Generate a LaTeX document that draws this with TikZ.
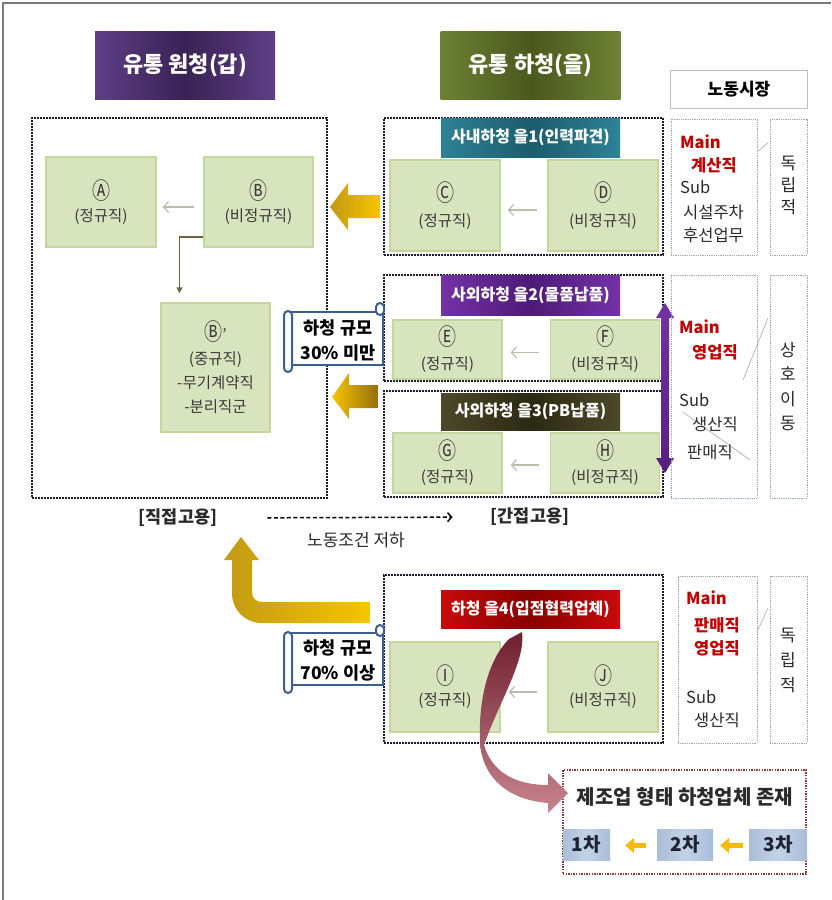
\documentclass[tikz,border=0pt]{standalone}
\usepackage{fontspec}
\usepackage{graphicx}
\setmainfont{Noto Sans CJK KR}
\usetikzlibrary{arrows.meta,calc}
\newcommand\fsz[2]{\fontsize{#1}{#2}\selectfont}
\newcommand\cl[1]{\scalebox{1}[1.3]{\fsz{18}{18}#1}}
\definecolor{framegray}{HTML}{7A7A7A}
\definecolor{gfill}{HTML}{D7E4BD}
\definecolor{gborder}{HTML}{C4D69E}
\definecolor{gtext}{HTML}{3A3A3A}
\definecolor{dotc}{HTML}{1C1C2C}
\definecolor{lgray}{HTML}{9AA3B2}
\definecolor{arrgray}{HTML}{BDBDAE}
\definecolor{olivec}{HTML}{6B6342}
\definecolor{pur1}{HTML}{5E3F86}
\definecolor{pur2}{HTML}{392254}
\definecolor{olv1}{HTML}{6E8134}
\definecolor{olv2}{HTML}{4A581D}
\definecolor{teal1}{HTML}{2E8296}
\definecolor{teal2}{HTML}{1D5C6C}
\definecolor{vio1}{HTML}{7432A6}
\definecolor{vio2}{HTML}{4E1A78}
\definecolor{brn1}{HTML}{4C4829}
\definecolor{brn2}{HTML}{2C2913}
\definecolor{red1}{HTML}{C80A0A}
\definecolor{red2}{HTML}{880000}
\definecolor{mainred}{HTML}{C00000}
\definecolor{scrollblue}{HTML}{3B5F8F}
\definecolor{golddark}{HTML}{C29A14}
\definecolor{goldbright}{HTML}{F6C400}
\definecolor{goldbrown}{HTML}{94700E}
\definecolor{redarrdark}{HTML}{6F1F2F}
\definecolor{redarrlight}{HTML}{C7858F}
\definecolor{tierblue}{HTML}{A9BDD8}
\definecolor{tierblue2}{HTML}{C3D2E6}
\definecolor{tiertext}{HTML}{1E2436}
\definecolor{bbred}{HTML}{8B3A3A}
\definecolor{dtext}{HTML}{2A2A2A}
\begin{document}
\begin{tikzpicture}[x=1pt,y=-1pt,
  gbox/.style={draw=gborder, fill=gfill, line width=1.5, minimum width=109, minimum height=90, inner sep=0, align=center, text=gtext, font=\fsz{15.5}{22}},
  dotbox/.style={draw=dotc, line width=1.6, dash pattern=on 1.6pt off 1.4pt, minimum width=279, inner sep=0},
  lbox/.style={draw=lgray, line width=0.7, dash pattern=on 1pt off 0.8pt, inner sep=0, minimum width=86},
  sbox/.style={draw=lgray, line width=0.7, dash pattern=on 1pt off 0.8pt, inner sep=0, minimum width=37},
  grp/.style={minimum width=179, inner sep=0, text=white, font=\bfseries\fsz{16}{18}},
  titlebox/.style={minimum width=180, minimum height=68, inner sep=0, text=white, font=\bfseries\fsz{22}{24}},
  thinarr/.style={draw=arrgray, line width=1.2, -{Straight Barb[length=5pt,width=11pt]}},
  mtxt/.style={anchor=west, inner sep=0, text=dtext, font=\fsz{16.5}{18}},
  mred/.style={anchor=west, inner sep=0, text=mainred, font=\bfseries\fsz{16.5}{18}},
  vtxt/.style={inner sep=0, align=center, text=dtext},
  scrollpart/.style={draw=scrollblue, fill=white, line width=2},
  scrolltxt/.style={inner sep=0, align=center, font=\bfseries\fsz{17.5}{25}},
  tier/.style={inner sep=0, minimum height=31, text=tiertext, font=\bfseries\fsz{19}{20}, left color=tierblue, right color=tierblue, middle color=tierblue2},
  smallgold/.style={draw=goldbright!85!orange, line width=5, -{Triangle[length=9pt,width=15pt]}},
  callout/.style={draw=lgray!80, line width=0.7}
]
\useasboundingbox (0,0) rectangle (831,900);
\fill[white] (0,0) rectangle (831,900);
\draw[framegray, line width=2] (3,900) -- (3,3) -- (831,3);

% titles
\node[titlebox, left color=pur1, right color=pur1, middle color=pur2] (t1) at (185,65) {유통 원청(갑)};
\node[titlebox, left color=olv1, right color=olv1, middle color=olv2] (t2) at (530.5,65) {유통 하청(을)};
\node[draw=lgray!70, line width=0.8, fill=white, minimum width=137, minimum height=38, inner sep=0, font=\bfseries\fsz{17}{18}] (lm) at (739,89.5) {노동시장};

% dotted containers
\node[dotbox, minimum width=295, minimum height=380] (L) at (179.5,308) {};
\node[dotbox, minimum height=137] (g1) at (523.5,186.5) {};
\node[dotbox, minimum height=106] (g2) at (523.5,328) {};
\node[dotbox, minimum height=106] (g3) at (523.5,444) {};
\node[dotbox, minimum height=168] (g4) at (523.5,659) {};

% group labels
\node[grp, minimum height=39, left color=teal1, right color=teal1, middle color=teal2] (l1) at (530.5,137.5) {사내하청 을1(인력파견)};
\node[grp, minimum height=40, left color=vio1, right color=vio1, middle color=vio2] (l2) at (530.5,295) {사외하청 을2(물품납품)};
\node[grp, minimum height=37, left color=brn1, right color=brn1, middle color=brn2] (l3) at (530.5,411.5) {사외하청 을3(PB납품)};
\node[grp, minimum height=38, left color=red1, right color=red1, middle color=red2] (l4) at (530.5,609) {하청 을4(입점협력업체)};

% green boxes
\node[gbox, minimum width=110] (A) at (101,202) {\cl{Ⓐ}\\(정규직)};
\node[gbox] (B) at (258.5,202) {\cl{Ⓑ}\\(비정규직)};
\node[gbox, minimum height=129, font=\fsz{15.5}{24}] (Bp) at (215.5,367.5) {\cl{Ⓑ}'\\(중규직)\\-무기계약직\\-분리직군};
\node[gbox, minimum width=110, minimum height=91, font=\fsz{15.5}{25}] (C) at (445,205.5) {\cl{Ⓒ}\\(정규직)};
\node[gbox, minimum width=110, minimum height=91, font=\fsz{15.5}{25}] (D) at (603,205.5) {\cl{Ⓓ}\\(비정규직)};
\node[gbox, minimum height=59, font=\fsz{15.5}{24}] (E) at (447.5,349.5) {\cl{Ⓔ}\\(정규직)};
\node[gbox, minimum height=59, font=\fsz{15.5}{24}] (F) at (605,349.5) {\cl{Ⓕ}\\(비정규직)};
\node[gbox, minimum height=60, font=\fsz{15.5}{23}] (G) at (447.5,463) {\cl{Ⓖ}\\(정규직)};
\node[gbox, minimum height=60, font=\fsz{15.5}{23}] (H) at (605,463) {\cl{Ⓗ}\\(비정규직)};
\node[gbox, minimum width=110, font=\fsz{15.5}{21}] (I) at (445,687) {\cl{Ⓘ}\\(정규직)};
\node[gbox, minimum width=110, font=\fsz{15.5}{21}] (J) at (603,687) {\cl{Ⓙ}\\(비정규직)};

% thin arrows
\draw[thinarr, shorten <=9, shorten >=6] ([yshift=-5]B.west) -- ([yshift=-5]A.east);
\draw[thinarr, shorten <=10, shorten >=7] ([yshift=-4.5]D.west) -- ([yshift=-4.5]C.east);
\draw[thinarr, shorten <=11, shorten >=8] ([yshift=-3]F.west) -- ([yshift=-3]E.east);
\draw[thinarr, shorten <=11, shorten >=8] ([yshift=-2]H.west) -- ([yshift=-2]G.east);
\draw[thinarr, shorten <=10, shorten >=8] ([yshift=-5]J.west) -- ([yshift=-5]I.east);

% B -> B'
\draw[olivec, line width=1.8, -{Triangle[length=6pt,width=6pt]}, shorten >=9] ([yshift=-35]B.west) -| ([xshift=-36]Bp.north);

% big gold arrows
\path[left color=golddark, right color=goldbright] (330,207) -- (348,183) -- (348,195) -- (380,195) -- (380,218) -- (348,218) -- (348,230) -- cycle;
\path[left color=goldbright, right color=goldbrown] (332,397) -- (349,373) -- (349,385) -- (378,385) -- (378,408) -- (349,408) -- (349,419) -- cycle;
\path[left color=golddark, right color=goldbright] (241,537) -- (259,560) -- (252,560) -- (252,592) .. controls (252,598) and (256,602) .. (262,602) -- (370,602) -- (370,623) -- (262,623) .. controls (245,623) and (232,610) .. (232,593) -- (232,560) -- (224,560) -- cycle;

% scrolls
\begin{scope}[shift={(283,303)}]
  \draw[scrollpart] (8,9) rectangle (100,62);
  \draw[scrollpart, rounded corners=4] (93,0) rectangle (101,12);
  \draw[scrollpart, rounded corners=4] (1,8) rectangle (9,69);
  \node[scrolltxt] (sc1) at (55,37) {하청 규모\\30\% 미만};
\end{scope}
\begin{scope}[shift={(283,625)}]
  \draw[scrollpart] (8,8) rectangle (100,60);
  \draw[scrollpart, rounded corners=4] (93,0) rectangle (101,11);
  \draw[scrollpart, rounded corners=4] (1,7) rectangle (9,68);
  \node[scrolltxt] (sc2) at (55,35) {하청 규모\\70\% 이상};
\end{scope}

% purple double arrow
\path[top color=vio1, bottom color=vio2!80!vio1] (665,303) -- (674,318) -- (669,318) -- (669,458) -- (674,458) -- (665,473) -- (656,458) -- (661,458) -- (661,318) -- (656,318) -- cycle;

% labour market boxes
\node[lbox, minimum height=136] (M1) at (714,187) {};
\node[sbox, minimum height=136] (S1) at (788.5,187) {};
\node[lbox, minimum height=223] (M2) at (714,386.5) {};
\node[sbox, minimum height=223] (S2) at (788.5,386.5) {};
\node[lbox, minimum width=79, minimum height=167] (M3) at (717.5,659.5) {};
\node[sbox, minimum height=167] (S3) at (788.5,659.5) {};
\draw[callout] (757,152) -- (768,143);
\draw[callout] (768,318) -- (743,380);
\draw[callout] (683,412) -- (750,460);
\draw[callout] (757,632) -- (768,608);

\node[mred] (m1a) at (680,142) {Main};
\node[mred] (m1b) at (691,165) {계산직};
\node[mtxt] (m1c) at (680,187) {Sub};
\node[mtxt] (m1d) at (683,212) {시설주차};
\node[mtxt] (m1e) at (683,235) {후선업무};
\node[vtxt, font=\fsz{17}{22}] (s1t) at (788.5,185) {독\\립\\적};

\node[mred] (m2a) at (679,327) {Main};
\node[mred] (m2b) at (692,352) {영업직};
\node[mtxt] (m2c) at (679,400) {Sub};
\node[mtxt] (m2d) at (692,424) {생산직};
\node[mtxt] (m2e) at (687,452) {판매직};
\node[vtxt, font=\fsz{17}{24.5}] (s2t) at (788,386.5) {상\\호\\이\\동};

\node[mred] (m3a) at (686,598) {Main};
\node[mred] (m3b) at (694,625) {판매직};
\node[mred] (m3c) at (694,648) {영업직};
\node[mtxt] (m3d) at (686,697) {Sub};
\node[mtxt] (m3e) at (694,720) {생산직};
\node[vtxt, font=\fsz{17}{25}] (s3t) at (788,660) {독\\립\\적};

% employment labels
\node[inner sep=0, font=\bfseries\fsz{17.5}{18}, text=dtext] (jj) at (178,518) {[직접고용]};
\node[inner sep=0, font=\bfseries\fsz{17.5}{18}, text=dtext] (gj) at (530,517) {[간접고용]};
\draw[black, line width=1.5, dash pattern=on 4pt off 2.5pt, -{Straight Barb[length=4pt,width=9pt]}, shorten <=50, shorten >=38] (jj.east) -- (gj.west);
\node[inner sep=0, font=\fsz{17}{18}, text=dtext] (ld) at (356,540) {노동조건 저하};

% bottom manufacturing box
\node[draw=bbred, line width=1.4, dash pattern=on 1.4pt off 1.2pt, minimum width=243, minimum height=104, inner sep=0] (BB) at (684.5,822) {};
\node[inner sep=0, font=\bfseries\fsz{20}{20}, text=dtext] (bbt) at (685,797) {제조업 형태 하청업체 존재};
\node[tier, minimum width=47] (T1) at (586.5,844.5) {1차};
\node[tier, minimum width=56] (T2) at (685,844.5) {2차};
\node[tier, minimum width=58] (T3) at (778,844.5) {3차};
\draw[smallgold, shorten <=11, shorten >=15] ([yshift=-1]T2.west) -- ([yshift=-1]T1.east);
\draw[smallgold, shorten <=6, shorten >=7] ([yshift=-1]T3.west) -- ([yshift=-1]T2.east);

% red curved arrow
\path[top color=redarrdark, bottom color=redarrlight] (509,639) -- (522,632) .. controls (526,660) and (500,700) .. (484,745) .. controls (492,772) and (515,785) .. (548,785) -- (548,773) -- (568,793) -- (548,813) -- (548,803) .. controls (510,800) and (484,780) .. (480,745) .. controls (478,700) and (488,660) .. (509,639) -- cycle;
\end{tikzpicture}
\end{document}
